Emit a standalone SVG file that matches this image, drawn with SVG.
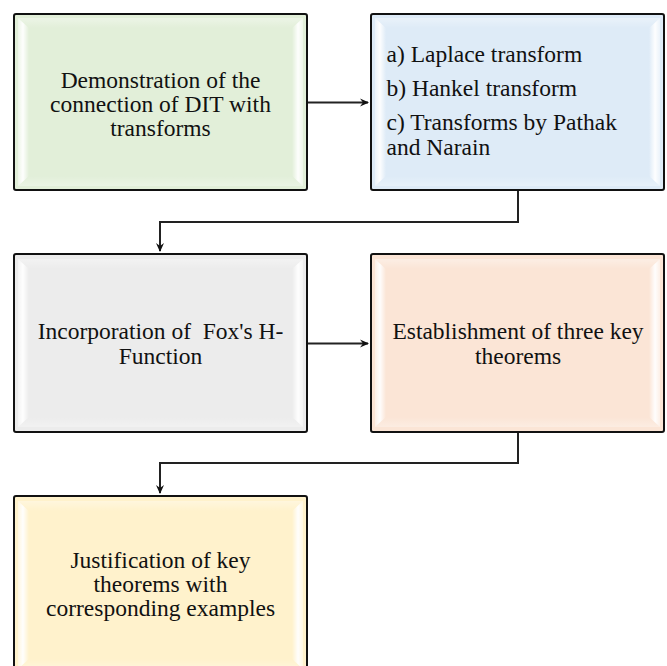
<svg xmlns="http://www.w3.org/2000/svg" xmlns:xlink="http://www.w3.org/1999/xlink" width="667" height="666" viewBox="0 0 667 666">
<style>
.box{stroke:#111;stroke-width:2}
.txt{font-family:"Liberation Serif","Times New Roman",serif;font-size:23.5px;fill:#111}
.c{text-anchor:middle}
.conn{fill:none;stroke:#222;stroke-width:2}
</style>
<defs>
<linearGradient id="gl" x1="0" y1="0" x2="1" y2="0">
<stop offset="0" stop-color="#fff" stop-opacity="0.4"/>
<stop offset="0.45" stop-color="#fff" stop-opacity="0.95"/>
<stop offset="1" stop-color="#fff" stop-opacity="0"/>
</linearGradient>
<linearGradient id="gr" x1="1" y1="0" x2="0" y2="0">
<stop offset="0" stop-color="#fff" stop-opacity="0.4"/>
<stop offset="0.45" stop-color="#fff" stop-opacity="0.95"/>
<stop offset="1" stop-color="#fff" stop-opacity="0"/>
</linearGradient>
<linearGradient id="gt" x1="0" y1="0" x2="0" y2="1">
<stop offset="0" stop-color="#fff" stop-opacity="0.35"/>
<stop offset="1" stop-color="#fff" stop-opacity="0"/>
</linearGradient>
<linearGradient id="gb" x1="0" y1="1" x2="0" y2="0">
<stop offset="0" stop-color="#fff" stop-opacity="0.3"/>
<stop offset="1" stop-color="#fff" stop-opacity="0"/>
</linearGradient>
<g id="bevel">
<path d="M4 4 L15 14 L15 162 L4 172 Z" fill="url(#gl)"/>
<path d="M289 4 L278 14 L278 162 L289 172 Z" fill="url(#gr)"/>
<path d="M4 4 L289 4 L278 14 L15 14 Z" fill="url(#gt)"/>
<path d="M4 172 L289 172 L278 162 L15 162 Z" fill="url(#gb)"/>
</g>
<marker id="arr" markerWidth="10" markerHeight="10" refX="8" refY="5" orient="auto" markerUnits="userSpaceOnUse">
<path d="M0 1 L9 5 L0 9 L3 5 Z" fill="#111"/>
</marker>
</defs>

<g id="connectors">
<path class="conn" d="M307 102.5 H368" marker-end="url(#arr)"/>
<path class="conn" d="M518 190 V222 H160 V251" marker-end="url(#arr)"/>
<path class="conn" d="M307 343.5 H368" marker-end="url(#arr)"/>
<path class="conn" d="M518 432 V463 H160 V493" marker-end="url(#arr)"/>
</g>

<g id="n1">
<rect class="box" x="14" y="14" width="293" height="176" rx="2" fill="#e2efd9"/>
<use xlink:href="#bevel" x="14" y="14"/>
<text class="txt c" x="160.5" y="87.5">Demonstration of the</text>
<text class="txt c" x="160.5" y="111.5">connection of DIT with</text>
<text class="txt c" x="160.5" y="135.5">transforms</text>
</g>

<g id="n2">
<rect class="box" x="371" y="14" width="293" height="176" rx="2" fill="#deebf7"/>
<use xlink:href="#bevel" x="371" y="14"/>
<text class="txt" x="386.5" y="62">a) Laplace transform</text>
<text class="txt" x="386.5" y="96">b) Hankel transform</text>
<text class="txt" x="386.5" y="130">c) Transforms by Pathak</text>
<text class="txt" x="386.5" y="155">and Narain</text>
</g>

<g id="n3">
<rect class="box" x="14" y="254" width="293" height="178" rx="2" fill="#ececec"/>
<use xlink:href="#bevel" x="14" y="255"/>
<text class="txt c" x="160.5" y="338.5" xml:space="preserve">Incorporation of  Fox's H-</text>
<text class="txt c" x="160.5" y="363.5">Function</text>
</g>

<g id="n4">
<rect class="box" x="371" y="254" width="293" height="178" rx="2" fill="#fbe5d6"/>
<use xlink:href="#bevel" x="371" y="255"/>
<text class="txt c" x="518" y="338.5">Establishment of three key</text>
<text class="txt c" x="518" y="363.5">theorems</text>
</g>

<g id="n5">
<rect class="box" x="14" y="496" width="293" height="178" rx="2" fill="#fff2cc"/>
<use xlink:href="#bevel" x="14" y="497"/>
<text class="txt c" x="160.5" y="567.5">Justification of key</text>
<text class="txt c" x="160.5" y="592">theorems with</text>
<text class="txt c" x="160.5" y="616">corresponding examples</text>
</g>
</svg>
